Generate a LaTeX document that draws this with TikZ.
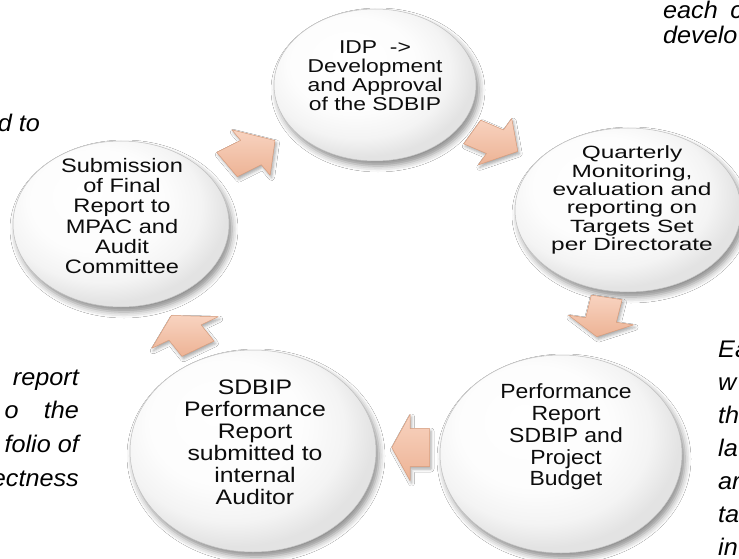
\documentclass[tikz,border=0pt]{standalone}
\usepackage{fontspec}
\setmainfont{Liberation Sans}
\usetikzlibrary{shapes.geometric,shadows.blur}
\definecolor{arrowtop}{HTML}{F8D3C0}
\definecolor{arrowbot}{HTML}{EDB395}
\definecolor{arrowedge}{HTML}{D9A081}
\definecolor{arrowdeep}{HTML}{C98F72}
\pgfdeclareradialshading{buttonshade}{\pgfpoint{-8bp}{10bp}}{color(0bp)=(white); color(16bp)=(white!98!gray); color(23bp)=(white!91!gray); color(28bp)=(white!78!gray); color(50bp)=(white!78!gray)}
\newcommand{\blockarrow}[8]{%
  \begin{scope}[xscale=1.3]
    \begin{scope}[shift={(#2/1.3,#3)},rotate=#4]
      \coordinate (#1-1) at (-#7,#8/2);
      \coordinate (#1-2) at (0,#8/2);
      \coordinate (#1-3) at (0,#5/2);
      \coordinate (#1-4) at (#6,0);
      \coordinate (#1-5) at (0,-#5/2);
      \coordinate (#1-6) at (0,-#8/2);
      \coordinate (#1-7) at (-#7,-#8/2);
    \end{scope}
  \end{scope}
  \path[arrowdepth] (#1-1)--(#1-2)--(#1-3)--(#1-4)--(#1-5)--(#1-6)--(#1-7)--cycle;
  \path[cyclearrow] (#1-1)--(#1-2)--(#1-3)--(#1-4)--(#1-5)--(#1-6)--(#1-7)--cycle;
}
\begin{document}
\begin{tikzpicture}[x=1pt,y=-1pt,
  btn/.style={ellipse, draw=gray!50, line width=0.5pt, shading=buttonshade, inner sep=0pt,
    blur shadow={shadow xshift=3pt, shadow yshift=-5pt, shadow blur radius=6pt, shadow opacity=45}},
  ctext/.style={inner sep=0pt, text=black!95},
  sidetext/.style={font=\fontsize{24}{24}\selectfont\itshape, inner sep=0pt, text=black},
  arrowdepth/.style={fill=arrowdeep, xshift=1pt, yshift=-1.5pt,
    blur shadow={shadow xshift=1.5pt, shadow yshift=-2.5pt, shadow blur radius=3pt, shadow opacity=35}},
  cyclearrow/.style={top color=arrowtop, bottom color=arrowbot, draw=arrowedge, line width=0.5pt, line join=round}
]
\useasboundingbox (0,0) rectangle (739,559);
\clip (0,0) rectangle (739,559);
\fill[white] (0,0) rectangle (739,559);

% side text (cut off by the picture border, as in the reference)
\node[sidetext, anchor=base east] (sl0) at (40,132) {\scalebox{1.05}[1]{d to}};
\node[sidetext, anchor=base east] (sl1) at (79,385) {\scalebox{1.05}[1]{report}};
\node[sidetext, anchor=base east] (sl2) at (79,418) {\scalebox{1.05}[1]{o\hspace{24pt}the}};
\node[sidetext, anchor=base east] (sl3) at (79,452) {\scalebox{1.05}[1]{folio of}};
\node[sidetext, anchor=base east] (sl4) at (79,486) {\scalebox{1.05}[1]{ectness}};
\node[sidetext, anchor=base west] (st1) at (663,19) {\scalebox{1.05}[1]{each\hspace{12pt}c}};
\node[sidetext, anchor=base west] (st2) at (663,44) {\scalebox{1.05}[1]{develo}};
\node[sidetext, anchor=base west] (sr1) at (718,357) {\scalebox{1.05}[1]{Ea}};
\node[sidetext, anchor=base west] (sr2) at (718,390) {\scalebox{1.05}[1]{w}};
\node[sidetext, anchor=base west] (sr3) at (718,423) {\scalebox{1.05}[1]{th}};
\node[sidetext, anchor=base west] (sr4) at (718,456) {\scalebox{1.05}[1]{la}};
\node[sidetext, anchor=base west] (sr5) at (718,489) {\scalebox{1.05}[1]{ar}};
\node[sidetext, anchor=base west] (sr6) at (718,522) {\scalebox{1.05}[1]{ta}};
\node[sidetext, anchor=base west] (sr7) at (718,555) {\scalebox{1.05}[1]{in}};

% circles
\node[btn, minimum width=202pt, minimum height=152pt] (c1) at (375,85) {};
\node[btn, minimum width=226pt, minimum height=164pt] (c2) at (628,210) {};
\node[btn, minimum width=242pt, minimum height=198pt] (c3) at (561,454) {};
\node[btn, minimum width=246pt, minimum height=202pt] (c4) at (253,451) {};
\node[btn, minimum width=216pt, minimum height=166pt] (c5) at (121,224) {};

% circle texts
\node[ctext, font=\fontsize{18.6}{18.7}\selectfont] (t1) at (375,78)
  {\scalebox{1.23}[1]{\begin{tabular}{@{}c@{}}IDP\ \ ->\\Development\\and Approval\\of the SDBIP\end{tabular}}};
\node[ctext, font=\fontsize{17.7}{18.3}\selectfont] (t2) at (632,201)
  {\scalebox{1.38}[1]{\begin{tabular}{@{}c@{}}Quarterly\\Monitoring,\\evaluation and\\reporting on\\Targets Set\\per Directorate\end{tabular}}};
\node[ctext, font=\fontsize{20.5}{21.7}\selectfont] (t3) at (566,438)
  {\scalebox{1.12}[1]{\begin{tabular}{@{}c@{}}Performance\\Report\\SDBIP and\\Project\\Budget\end{tabular}}};
\node[ctext, font=\fontsize{21}{22}\selectfont] (t4) at (255,445)
  {\scalebox{1.18}[1]{\begin{tabular}{@{}c@{}}SDBIP\\Performance\\Report\\submitted to\\internal\\Auditor\end{tabular}}};
\node[ctext, font=\fontsize{19.5}{20.3}\selectfont] (t5) at (122,219)
  {\scalebox{1.21}[1]{\begin{tabular}{@{}c@{}}Submission\\of Final\\Report to\\MPAC and\\Audit\\Committee\end{tabular}}};

% cycle arrows: name, x, y, angle, head width, head length, tail length, shaft width
\blockarrow{a1}{251}{152.5}{33}{54}{22}{22}{29}
\blockarrow{a2}{495}{141.7}{-29}{53}{20}{20}{27}
\blockarrow{a3}{601}{320}{-101}{51}{17}{23}{24}
\blockarrow{a4}{410}{447.5}{180}{66}{14}{15}{38}
\blockarrow{a5}{185}{332.5}{121.7}{60}{20}{19}{29}
\end{tikzpicture}
\end{document}
